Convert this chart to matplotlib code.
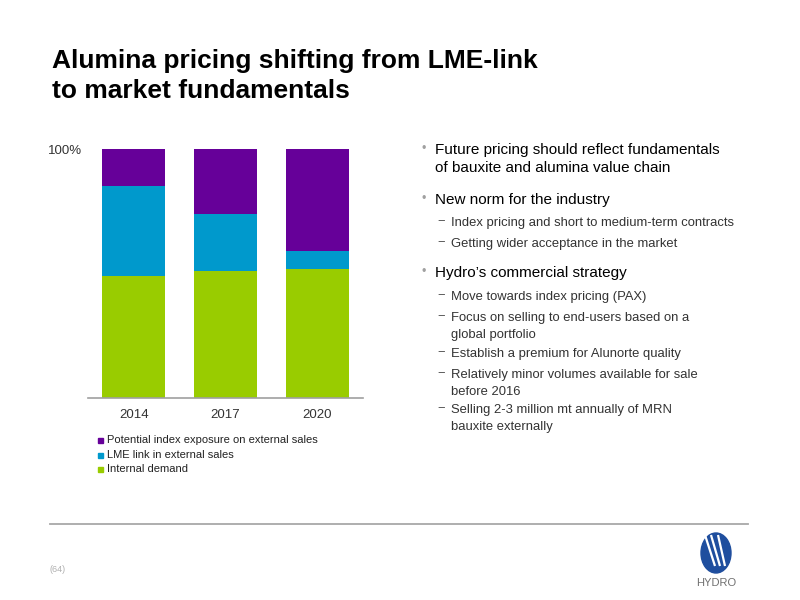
import matplotlib
matplotlib.use("Agg")
import matplotlib.pyplot as plt
from matplotlib.patches import Ellipse, Rectangle, Polygon
from matplotlib.lines import Line2D

plt.rcParams['font.family'] = ['Liberation Sans', 'DejaVu Sans']

# ---- data ----
categories = ['2014', '2017', '2020']
internal_demand = [49, 51, 52]
lme_link = [36, 23, 7]
index_exposure = [15, 26, 41]
series_names = ['Potential index exposure on external sales',
                'LME link in external sales',
                'Internal demand']
colors = {'Internal demand': '#99CC00',
          'LME link in external sales': '#0099CC',
          'Potential index exposure on external sales': '#660099'}

title_lines = ['Alumina pricing shifting from LME-link', 'to market fundamentals']

W, H = 800, 600
fig = plt.figure(figsize=(8, 6), dpi=100)

def fx(px):
    return px / W

def fy(py):
    return 1 - py / H

# title
fig.text(fx(52), fy(61), title_lines[0], fontsize=19, fontweight='bold',
         color='black', va='center', ha='left')
fig.text(fx(52), fy(91), title_lines[1], fontsize=19, fontweight='bold',
         color='black', va='center', ha='left')

# chart axes
left, right, top, bottom = 88, 363, 149, 398
ax = fig.add_axes([fx(left), fy(bottom), (right - left) / W, (bottom - top) / H])
x = list(range(len(categories)))
bw = 0.69
ax.bar(x, internal_demand, width=bw, color=colors['Internal demand'])
ax.bar(x, lme_link, width=bw, bottom=internal_demand, color=colors['LME link in external sales'])
b2 = [a + b for a, b in zip(internal_demand, lme_link)]
ax.bar(x, index_exposure, width=bw, bottom=b2,
       color=colors['Potential index exposure on external sales'])
ax.set_xlim(-0.5, 2.5)
ax.set_ylim(0, 100)
for s in ['top', 'right', 'left']:
    ax.spines[s].set_visible(False)
ax.spines['bottom'].set_color('#A0A0A0')
ax.spines['bottom'].set_linewidth(1.2)
ax.set_xticks(x)
ax.set_xticklabels(categories, fontsize=9.5, color='#333333')
ax.tick_params(axis='x', length=0, pad=8)
ax.set_yticks([100])
ax.set_yticklabels(['100%'], fontsize=9.5, color='#333333')
ax.tick_params(axis='y', length=0, pad=4)

# legend (custom, square markers)
leg_y = [440, 455, 469]
for name, yy in zip(series_names, leg_y):
    fig.patches.append(Rectangle((fx(98), fy(yy + 2.5)), 5 / W, 5 / H,
                                 transform=fig.transFigure, color=colors[name]))
    fig.text(fx(107), fy(yy), name, fontsize=8, color='#222222', va='center', ha='left')

# bullet text
main_fs = 11
sub_fs = 9.4
items = [
    ('main', 150, 'Future pricing should reflect fundamentals'),
    ('cont', 168, 'of bauxite and alumina value chain'),
    ('main', 200, 'New norm for the industry'),
    ('sub', 223, 'Index pricing and short to medium-term contracts'),
    ('sub', 244, 'Getting wider acceptance in the market'),
    ('main', 273, 'Hydro\u2019s commercial strategy'),
    ('sub', 297, 'Move towards index pricing (PAX)'),
    ('sub', 318, 'Focus on selling to end-users based on a'),
    ('subc', 335, 'global portfolio'),
    ('sub', 354, 'Establish a premium for Alunorte quality'),
    ('sub', 375, 'Relatively minor volumes available for sale'),
    ('subc', 392, 'before 2016'),
    ('sub', 410, 'Selling 2-3 million mt annually of MRN'),
    ('subc', 427, 'bauxite externally'),
]
for kind, yy, txt in items:
    if kind in ('main', 'cont'):
        if kind == 'main':
            fig.text(fx(421), fy(yy - 1), '\u2022', fontsize=9, color='#A0A0A0', va='center', ha='left')
        fig.text(fx(435), fy(yy), txt, fontsize=main_fs, color='black', va='center', ha='left')
    else:
        if kind == 'sub':
            fig.text(fx(437), fy(yy - 1), '\u2212', fontsize=sub_fs, color='#555555', va='center', ha='left')
        fig.text(fx(451), fy(yy), txt, fontsize=sub_fs, color='#333333', va='center', ha='left')

# footer line
fig.add_artist(Line2D([fx(50), fx(748)], [fy(524), fy(524)], color='#A8A8A8', lw=1.3,
                      transform=fig.transFigure))
fig.text(fx(50), fy(570), '(64)', fontsize=6.5, color='#B0B0B0', va='center', ha='left')

# logo
logo_ax = fig.add_axes([fx(695), fy(595), 48 / W, 65 / H])
logo_ax.set_xlim(0, 48)
logo_ax.set_ylim(65, 0)
logo_ax.axis('off')
logo_ax.add_patch(Ellipse((21, 23), 30, 40, color='#1F4E9E'))
for xb, xt in [(13, 10), (18, 16), (23, 23)]:
    logo_ax.plot([xt, xb + 7], [5, 36], color='white', lw=1.6, solid_capstyle='butt')
logo_ax.text(21, 53, 'HYDRO', fontsize=8, color='#707070', ha='center', va='center',
             fontstretch='condensed')

fig.savefig('out.png', dpi=100)
